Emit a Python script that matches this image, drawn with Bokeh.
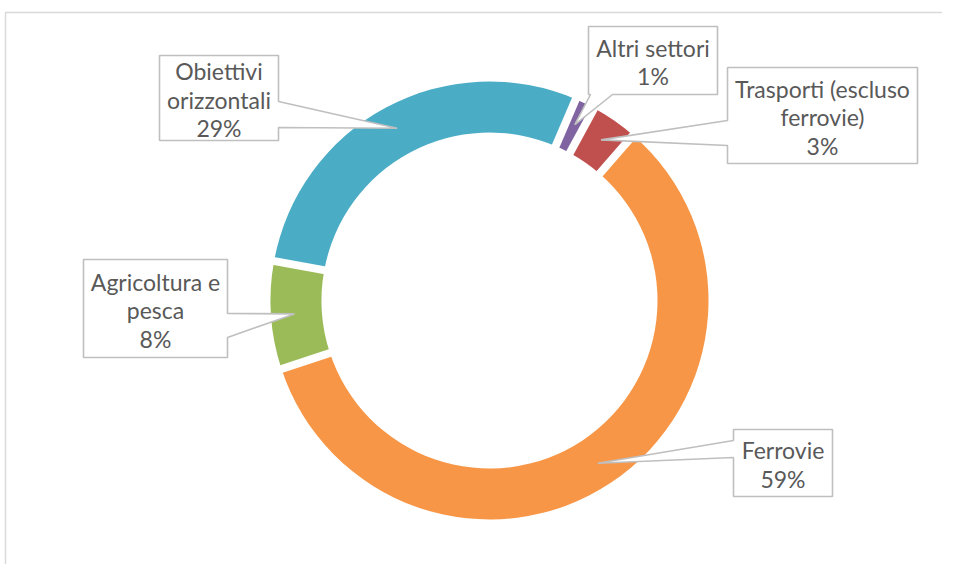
import math
from bokeh.plotting import figure
from bokeh.models import Range1d
from bokeh.core.properties import value
from bokeh.embed import file_html
from bokeh.resources import INLINE

# ---- data ----
categories = ["Altri settori", "Trasporti (escluso\nferrovie)", "Ferrovie",
              "Agricoltura e\npesca", "Obiettivi\norizzontali"]
shares = [1.49, 3.45, 58.55, 7.95, 28.56]
colors = ["#8064A2", "#C0504D", "#F79646", "#9BBB59", "#4BACC6"]

# ---- layout (screen pixels) ----
W, H = 942, 564
CX, CY = 489, 300
R_OUT, R_IN = 219, 168
FIRST_ANGLE = 23.2  # degrees clockwise from 12 o'clock
LINE_H = 28.5

# callout boxes: (left, top, right, bottom, side, a1, a2)
boxes = [
    (588, 26, 717, 94, "bottom", 590, 612),
    (727, 67, 917, 163, "left", 120, 145),
    (733, 429, 832, 496, "left", 440, 457),
    (83, 259, 227, 357, "right", 313, 337),
    (159, 55, 278, 140, "right", 101, 127),
]

def Y(s):
    return -s

p = figure(width=W, height=H, output_backend="svg", toolbar_location=None,
           x_range=Range1d(0, W), y_range=Range1d(-H, 0),
           min_border=0, outline_line_color=None, background_fill_color="white")
p.axis.visible = False
p.xgrid.visible = False
p.ygrid.visible = False

# chart area border
p.quad(left=[5], right=[1200], top=[Y(12)], bottom=[Y(900)],
       fill_color=None, line_color="#d9d9d9", line_width=1.5)

total = sum(shares)
bounds = [FIRST_ANGLE]
for v in shares:
    bounds.append(bounds[-1] + v / total * 360.0)

starts = [math.radians(90 - b) for b in bounds[:-1]]
ends = [math.radians(90 - b) for b in bounds[1:]]
p.annular_wedge(x=[CX] * len(shares), y=[Y(CY)] * len(shares),
                inner_radius=R_IN, outer_radius=R_OUT,
                start_angle=starts, end_angle=ends, direction="clock",
                fill_color=colors, line_color=None)

# white separators between slices
gx0, gy0, gx1, gy1 = [], [], [], []
for b in bounds[:-1]:
    a = math.radians(b)
    gx0.append(CX + (R_IN - 8) * math.sin(a)); gy0.append(Y(CY - (R_IN - 8) * math.cos(a)))
    gx1.append(CX + (R_OUT + 8) * math.sin(a)); gy1.append(Y(CY - (R_OUT + 8) * math.cos(a)))
p.segment(x0=gx0, y0=gy0, x1=gx1, y1=gy1, line_color="white", line_width=8)

# callouts
xs, ys = [], []
tx, ty, tt = [], [], []
R_TIP = (R_IN + R_OUT) / 2 + 2
for i, (l, t, r, b, side, a1, a2) in enumerate(boxes):
    mid = math.radians((bounds[i] + bounds[i + 1]) / 2)
    tip = (CX + R_TIP * math.sin(mid), CY - R_TIP * math.cos(mid))
    if side == "right":
        pts = [(l, t), (r, t), (r, a1), tip, (r, a2), (r, b), (l, b)]
    elif side == "bottom":
        pts = [(l, t), (r, t), (r, b), (a2, b), tip, (a1, b), (l, b)]
    else:
        pts = [(l, t), (r, t), (r, b), (l, b), (l, a2), tip, (l, a1)]
    xs.append([q[0] for q in pts])
    ys.append([Y(q[1]) for q in pts])
    pct = int(shares[i] / total * 100 + 0.5)
    lines = categories[i].split("\n") + ["%d%%" % pct]
    cyb = (t + b) / 2 + 1.5
    n = len(lines)
    for k, ln in enumerate(lines):
        tx.append((l + r) / 2)
        ty.append(Y(cyb + (k - (n - 1) / 2) * LINE_H))
        tt.append(ln)

p.patches(xs=xs, ys=ys, fill_color="white", line_color="#bfbfbf", line_width=1.6)
p.text(x=tx, y=ty, text=tt, text_align="center", text_baseline="middle",
       text_font=value("Lato"), text_font_size="23px", text_color="#595959")

open("out.html", "w").write(file_html(p, INLINE))
